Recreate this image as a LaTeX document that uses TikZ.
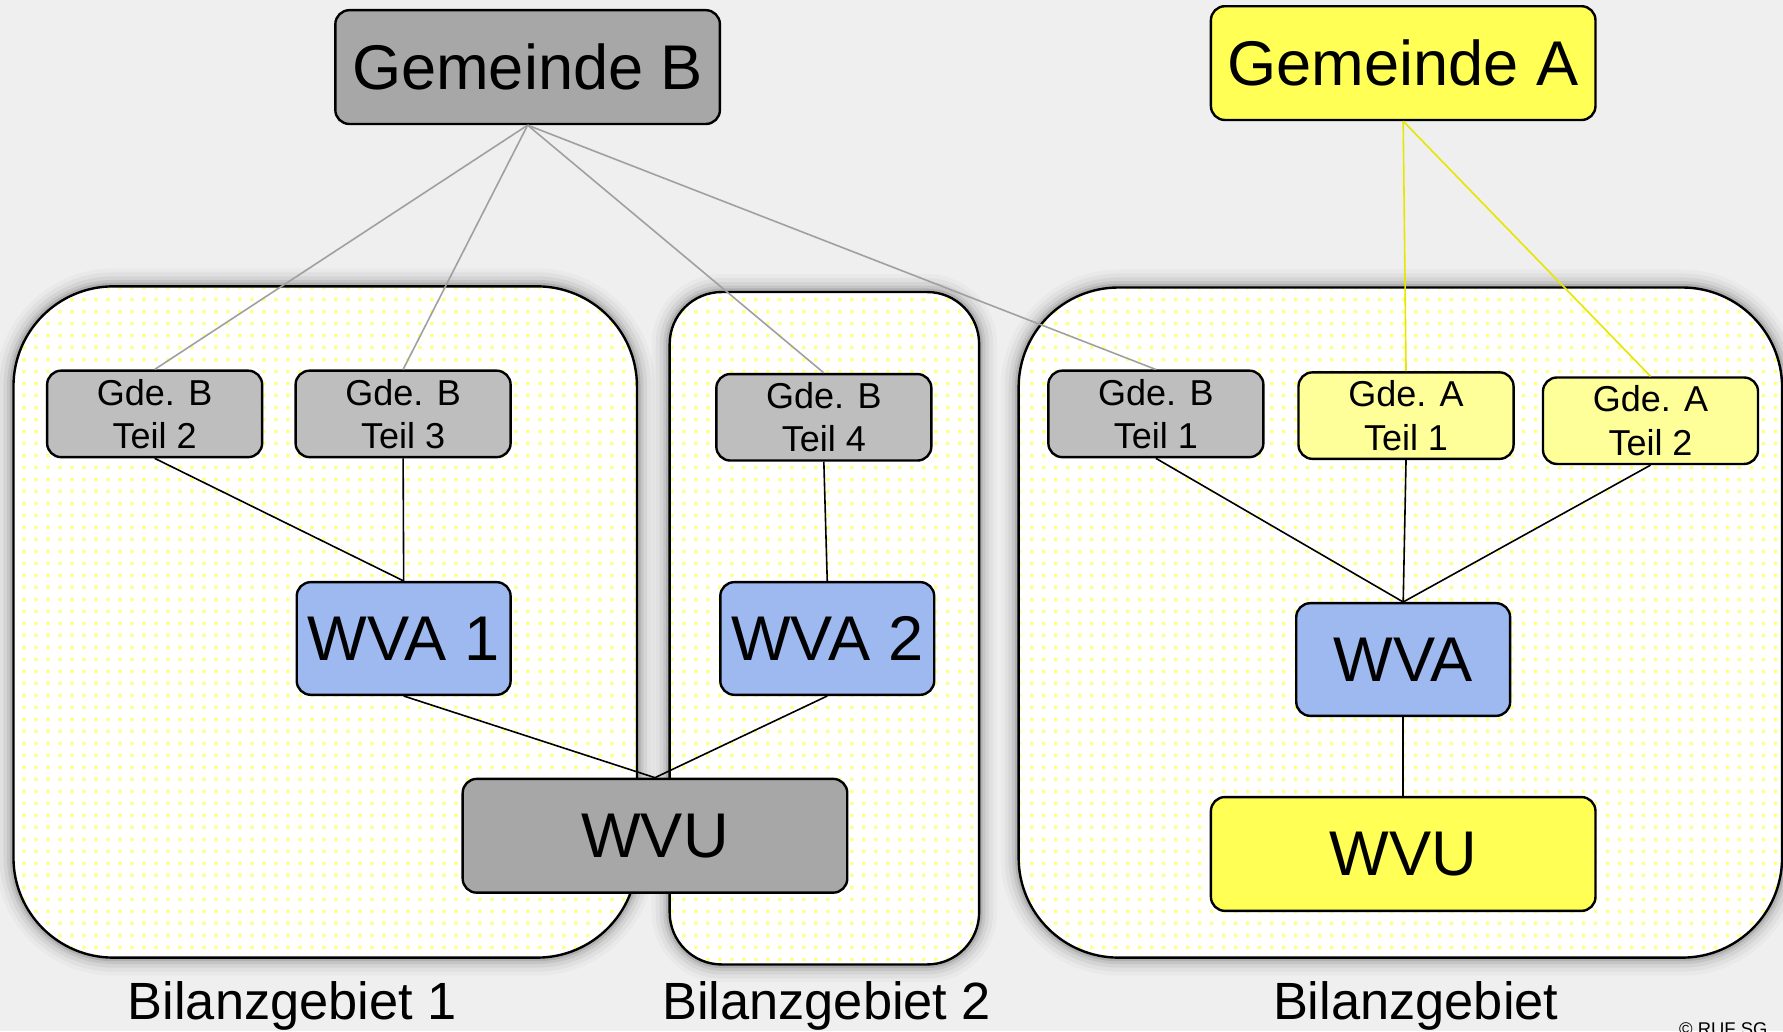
\documentclass[tikz,border=0pt]{standalone}
\usepackage{fontspec}
\setmainfont{Liberation Sans}
\usetikzlibrary{patterns}
\definecolor{bgc}{HTML}{EFEFEF}
\definecolor{gdark}{HTML}{A7A7A7}
\definecolor{glight}{HTML}{BEBEBE}
\definecolor{ystrong}{HTML}{FFFF55}
\definecolor{ylight}{HTML}{FFFF99}
\definecolor{bluec}{HTML}{9DB9EF}
\definecolor{dotc}{HTML}{FFFF90}
\definecolor{glinec}{HTML}{A0A0A0}
\definecolor{ylinec}{HTML}{E6E600}
\tikzset{
  box/.style={draw=black, line width=0.6pt, rounded corners=3.5pt, inner sep=0pt, align=center},
  bigbox/.style={box, minimum width=3.38cm, minimum height=1.0cm, font=\fontsize{15.8}{18}\selectfont},
  partbox/.style={box, minimum width=1.89cm, minimum height=0.76cm, font=\fontsize{9}{10.8}\selectfont},
  wvabox/.style={box, fill=bluec, minimum width=1.88cm, minimum height=0.99cm, font=\fontsize{15.8}{18}\selectfont},
  region/.style={draw=black, line width=0.6pt, inner sep=0pt,
    preaction={draw=black, opacity=0.025, line width=9pt},
    preaction={draw=black, opacity=0.035, line width=7pt},
    preaction={draw=black, opacity=0.05, line width=5pt},
    preaction={draw=black, opacity=0.07, line width=3.2pt},
    preaction={draw=black, opacity=0.10, line width=1.8pt},
    preaction={fill=white},
    pattern=dots, pattern color=dotc},
  gline/.style={draw=glinec, line width=0.4pt},
  yline/.style={draw=ylinec, line width=0.4pt},
  bline/.style={draw=black, line width=0.4pt},
  caption/.style={anchor=base, inner sep=0pt, font=\fontsize{13.1}{15}\selectfont}
}
\begin{document}
\begin{tikzpicture}[x=0.01cm, y=-0.01cm]
\fill[bgc] (0,0) rectangle (1568,907);
\useasboundingbox (0,0) rectangle (1568,907);
\clip (0,0) rectangle (1568,907);

% regions
\node[region, rounded corners=25pt, minimum width=5.48cm, minimum height=5.90cm] (r1) at (286,547) {};
\node[region, rounded corners=13pt, minimum width=2.72cm, minimum height=5.91cm] (r2) at (725,552.5) {};
\node[region, rounded corners=25pt, minimum width=6.71cm, minimum height=5.89cm] (r3) at (1231.5,547.5) {};

% nodes
\node[bigbox, fill=gdark] (gemB) at (464,59) {Gemeinde B};
\node[bigbox, fill=ystrong] (gemA) at (1234,55.5) {Gemeinde A};

\node[partbox, fill=glight] (b2) at (136,364) {Gde. B\\Teil 2};
\node[partbox, fill=glight] (b3) at (354.5,364) {Gde. B\\Teil 3};
\node[partbox, fill=glight] (b4) at (724.5,367) {Gde. B\\Teil 4};
\node[partbox, fill=glight] (b1) at (1016.5,364) {Gde. B\\Teil 1};
\node[partbox, fill=ylight] (a1) at (1236.5,365.5) {Gde. A\\Teil 1};
\node[partbox, fill=ylight] (a2) at (1451.5,370) {Gde. A\\Teil 2};

\node[wvabox] (wva1) at (355,561.5) {WVA 1};
\node[wvabox] (wva2) at (727.5,561.5) {WVA 2};
\node[wvabox] (wva) at (1234,580) {WVA};

\node[bigbox, fill=gdark] (wvu1) at (576,735) {WVU};
\node[bigbox, fill=ystrong] (wvu2) at (1234,751) {WVU};

% connectors
\path[gline] (gemB.south) -- (b2.north);
\path[gline] (gemB.south) -- (b3.north);
\path[gline] (gemB.south) -- (b4.north);
\path[gline] (gemB.south) -- (b1.north);
\path[yline] (gemA.south) -- (a1.north);
\path[yline] (gemA.south) -- (a2.north);
\path[bline] (b2.south) -- (wva1.north);
\path[bline] (b3.south) -- (wva1.north);
\path[bline] (b4.south) -- (wva2.north);
\path[bline] (wva1.south) -- (wvu1.north);
\path[bline] (wva2.south) -- (wvu1.north);
\path[bline] (b1.south) -- (wva.north);
\path[bline] (a1.south) -- (wva.north);
\path[bline] (a2.south) -- (wva.north);
\path[bline] (wva.south) -- (wvu2.north);

% captions
\node[caption] (c1) at (257,897) {Bilanzgebiet 1};
\node[caption] (c2) at (727,897) {Bilanzgebiet 2};
\node[caption] (c3) at (1245,897) {Bilanzgebiet};
\node[anchor=base west, inner sep=0pt, font=\fontsize{4.6}{5}\selectfont] (copy) at (1476,911) {© RUF SG};
\end{tikzpicture}
\end{document}
